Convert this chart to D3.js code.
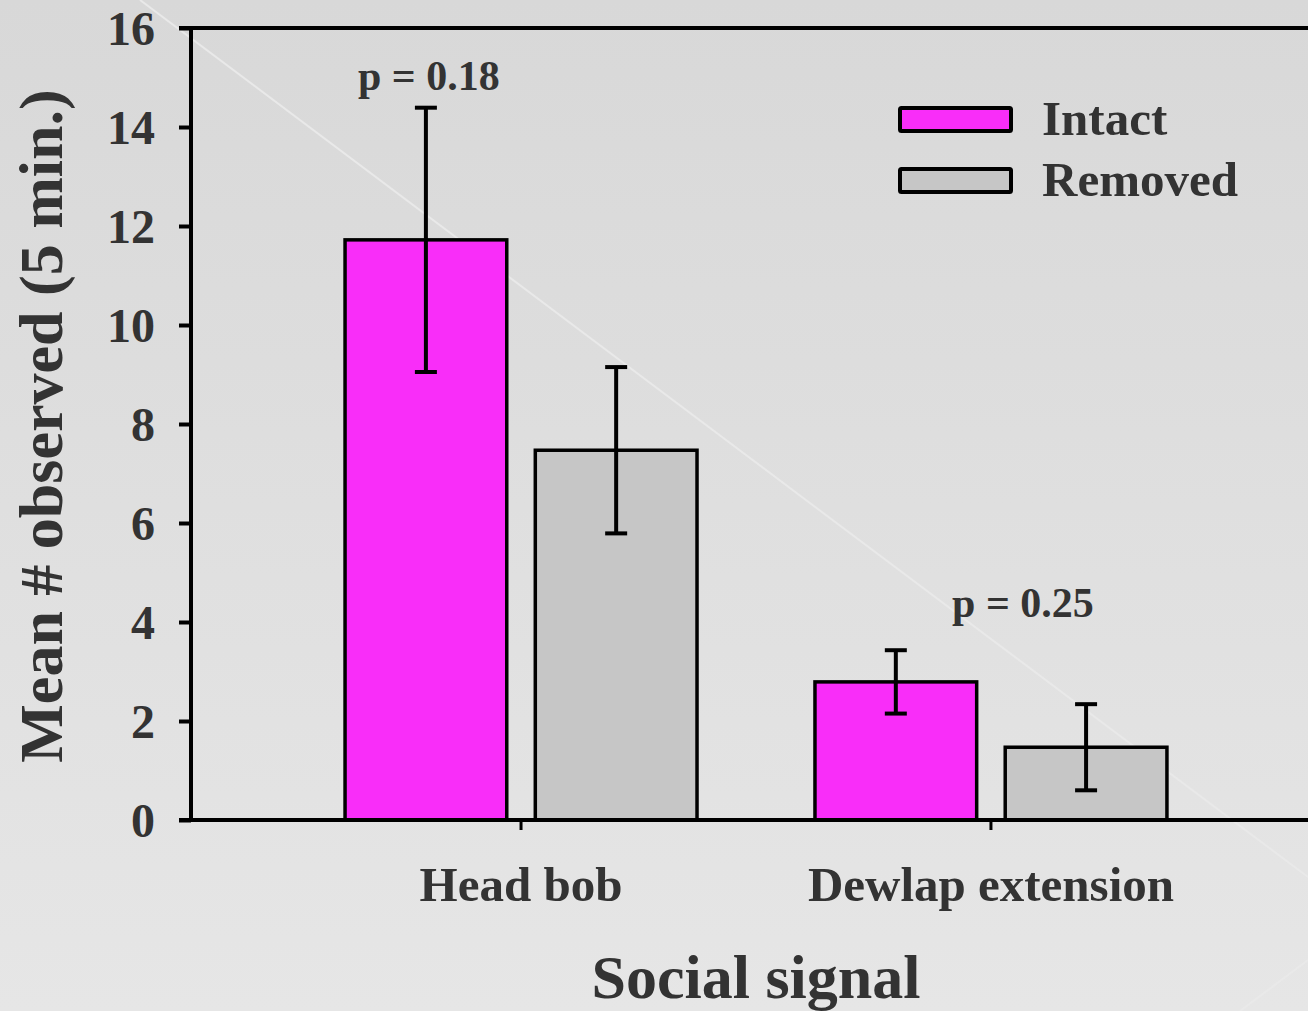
<!DOCTYPE html>
<html>
<head>
<meta charset="utf-8">
<script src="https://cdn.jsdelivr.net/npm/d3@7"></script>
<style>
  html, body { margin: 0; padding: 0; background: #e0e0e0; }
  text { font-family: "Liberation Serif", "Times New Roman", serif; font-weight: bold; fill: #333; }
</style>
</head>
<body>
<div id="chart"></div>
<script>
var w = 1308;
var h = 1011;

// data
var categories = ["Head bob", "Dewlap extension"];
var groups = ["Intact", "Removed"];
var intactMeans = [11.72, 2.79];
var intactErr = [2.67, 0.64];
var removedMeans = [7.47, 1.47];
var removedErr = [1.68, 0.87];
var pLabels = ["p = 0.18", "p = 0.25"];
var yTicks = [0, 2, 4, 6, 8, 10, 12, 14, 16];
var colors = ["#f92df9", "#c6c6c6"];

var dataset = [];
categories.forEach(function (c, i) {
	dataset.push({cat: c, group: "Intact", mean: intactMeans[i], err: intactErr[i]});
	dataset.push({cat: c, group: "Removed", mean: removedMeans[i], err: removedErr[i]});
});

var plotLeft = 191, plotTop = 28, plotBottom = 820, plotRight = w;

var svg = d3.select("#chart")
	.append("svg")
	.attr("width", w)
	.attr("height", h);

// slide background
var grad = svg.append("defs").append("linearGradient")
	.attr("id", "bg").attr("x1", 0).attr("y1", 0).attr("x2", 0).attr("y2", 1);
grad.append("stop").attr("offset", "0%").attr("stop-color", "#d8d8d8");
grad.append("stop").attr("offset", "100%").attr("stop-color", "#e6e6e6");
svg.append("rect").attr("width", w).attr("height", h).attr("fill", "url(#bg)");
svg.append("line").attr("x1", 140).attr("y1", 0).attr("x2", 1308).attr("y2", 877)
	.attr("stroke", "#e9e9e9").attr("stroke-width", 2);
svg.append("line").attr("x1", 1240).attr("y1", 1011).attr("x2", 1308).attr("y2", 960)
	.attr("stroke", "#e9e9e9").attr("stroke-width", 2);

//scales
var x0 = d3.scaleBand()
	.domain(categories)
	.range([plotLeft, plotRight])
	.paddingInner(0.251)
	.paddingOuter(0.314)
	.align(0.522);

var x1 = d3.scaleBand()
	.domain(groups)
	.range([0, x0.bandwidth()])
	.paddingInner(0.15);

var yScale = d3.scaleLinear()
	.domain([0, 16])
	.range([plotBottom, plotTop]);

var color = d3.scaleOrdinal().domain(groups).range(colors);

// bars
svg.selectAll("rect.bar")
.data(dataset)
.enter()
.append("rect")
.attr("class", "bar")
.attr("x", function (d) { return x0(d.cat) + x1(d.group); })
.attr("y", function (d) { return yScale(d.mean); })
.attr("width", x1.bandwidth())
.attr("height", function (d) { return yScale(0) - yScale(d.mean); })
.attr("fill", function (d) { return color(d.group); })
.attr("stroke", "#000")
.attr("stroke-width", 3.5);

// error bars
var eb = svg.selectAll("g.err")
.data(dataset)
.enter()
.append("g")
.attr("class", "err")
.attr("transform", function (d) {
	return "translate(" + (x0(d.cat) + x1(d.group) + x1.bandwidth() / 2) + ",0)";
});
eb.append("line")
.attr("x1", 0).attr("x2", 0)
.attr("y1", function (d) { return yScale(d.mean + d.err); })
.attr("y2", function (d) { return yScale(d.mean - d.err); })
.attr("stroke", "#000").attr("stroke-width", 4);
eb.append("line")
.attr("x1", -11).attr("x2", 11)
.attr("y1", function (d) { return yScale(d.mean + d.err); })
.attr("y2", function (d) { return yScale(d.mean + d.err); })
.attr("stroke", "#000").attr("stroke-width", 4);
eb.append("line")
.attr("x1", -11).attr("x2", 11)
.attr("y1", function (d) { return yScale(d.mean - d.err); })
.attr("y2", function (d) { return yScale(d.mean - d.err); })
.attr("stroke", "#000").attr("stroke-width", 4);

// axes
var yAxis = svg.append("g")
	.attr("transform", "translate(" + plotLeft + ",0)")
	.call(d3.axisLeft(yScale).tickValues(yTicks).tickSize(12).tickPadding(24));
yAxis.select(".domain").attr("stroke", "#000").attr("stroke-width", 4)
	.attr("d", "M0," + plotTop + "V" + (plotBottom + 2));
yAxis.selectAll(".tick line").attr("stroke", "#000").attr("stroke-width", 4);
yAxis.selectAll(".tick text").attr("font-size", "48px").attr("fill", null)
	.attr("dy", "0.34em");

var xAxis = svg.append("g")
	.attr("transform", "translate(0," + plotBottom + ")")
	.call(d3.axisBottom(x0).tickSize(10).tickPadding(36));
xAxis.select(".domain").attr("stroke", "#000").attr("stroke-width", 4)
	.attr("d", "M" + (plotLeft - 12) + ",0H" + plotRight);
xAxis.selectAll(".tick line").attr("stroke", "#000").attr("stroke-width", 3);
xAxis.selectAll(".tick text").attr("font-size", "49px").attr("fill", null);

// top frame line
svg.append("line")
	.attr("x1", plotLeft - 12).attr("x2", plotRight)
	.attr("y1", plotTop).attr("y2", plotTop)
	.attr("stroke", "#000").attr("stroke-width", 4);

// p values
svg.append("text")
	.attr("x", x0(categories[0]) + x1("Intact") + x1.bandwidth() / 2 + 3)
	.attr("y", yScale(14.75))
	.attr("text-anchor", "middle")
	.attr("font-size", "42px")
	.text(pLabels[0]);
svg.append("text")
	.attr("x", x0(categories[1]) + x0.bandwidth() / 2 + 32)
	.attr("y", yScale(4.1))
	.attr("text-anchor", "middle")
	.attr("font-size", "42px")
	.text(pLabels[1]);

// axis titles
svg.append("text")
	.attr("transform", "translate(62," + ((plotTop + plotBottom) / 2 + 2) + ") rotate(-90)")
	.attr("text-anchor", "middle")
	.attr("font-size", "62px")
	.text("Mean # observed (5 min.)");
svg.append("text")
	.attr("x", 756)
	.attr("y", 998)
	.attr("text-anchor", "middle")
	.attr("font-size", "62px")
	.text("Social signal");

// legend
var legend = svg.selectAll("g.legend")
.data(groups)
.enter()
.append("g")
.attr("class", "legend")
.attr("transform", function (d, i) { return "translate(900," + (108 + i * 61) + ")"; });
legend.append("rect")
.attr("width", 111).attr("height", 23)
.attr("fill", function (d) { return color(d); })
.attr("stroke", "#000").attr("stroke-width", 4).attr("rx", 1.5);
legend.append("text")
.attr("x", 142).attr("y", 27)
.attr("font-size", "49px")
.text(function (d) { return d; });
</script>
</body>
</html>
